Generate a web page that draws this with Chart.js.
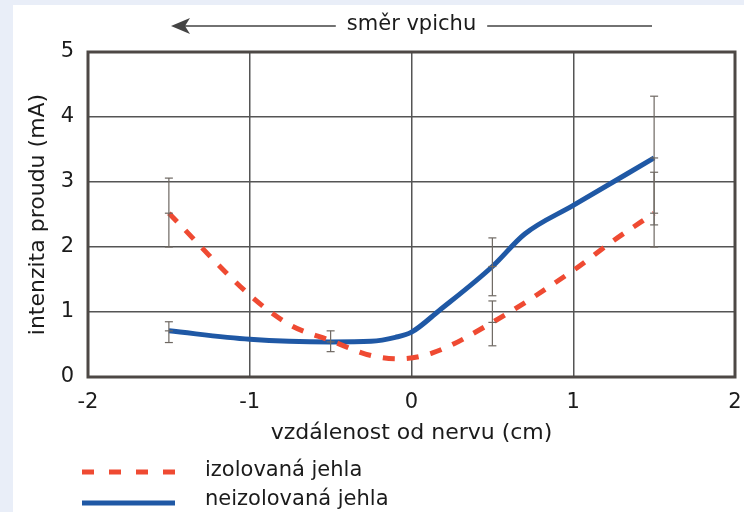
<!DOCTYPE html>
<html lang="cs">
<head>
<meta charset="utf-8">
<title>Intenzita proudu</title>
<script src="https://cdn.jsdelivr.net/npm/chart.js@4.4.1/dist/chart.umd.min.js"></script>
<style>
  html, body { margin: 0; padding: 0; background: #fff; }
  #wrap { position: relative; width: 744px; height: 512px; }
</style>
</head>
<body>
<div id="wrap"><canvas id="chart" width="744" height="512"></canvas></div>
<script>
// izolovaná jehla (red dashed curve)
const izolX = [-1.5, -1, -0.75, -0.5, -0.25, -0.08, 0.13, 0.5, 1, 1.25, 1.5];
const izolY = [2.52, 1.26, 0.8, 0.56, 0.33, 0.28, 0.37, 0.84, 1.64, 2.1, 2.52];

// neizolovaná jehla (blue solid curve)
const neizX = [-1.5, -1, -0.5, -0.25, -0.1, 0, 0.17, 0.5, 0.7, 1, 1.5];
const neizY = [0.71, 0.58, 0.54, 0.55, 0.61, 0.69, 1.02, 1.7, 2.2, 2.64, 3.37];

// error bars (low / high ends)
const izolErrX = [-1.5, 0.5, 1.5];
const izolErrLow = [2.0, 0.48, 2.0];
const izolErrHigh = [3.06, 1.17, 3.15];
const neizErrX = [-1.5, -0.5, 0.5, 1.5];
const neizErrLow = [0.53, 0.39, 1.25, 2.34];
const neizErrHigh = [0.85, 0.71, 2.14, 4.32];

const labels = ['izolovaná jehla', 'neizolovaná jehla'];
const topNote = 'směr vpichu';
const xTitle = 'vzdálenost od nervu (cm)';
const yTitle = 'intenzita proudu (mA)';

const RED = '#ef4a32';
const BLUE = '#1f58a5';
const BAR = '#6e6862';
const FONT = 'DejaVu Sans, Verdana, sans-serif';

function toPoints(xs, ys) {
    return xs.map((x, i) => ({ x: x, y: ys[i] }));
}

function errorSets(xs, lows, highs, serX, serY) {
    return xs.map((x, i) => {
        const mid = serY[serX.indexOf(x)];
        return {
            data: [{ x: x, y: lows[i] }, { x: x, y: mid }, { x: x, y: highs[i] }],
            borderColor: BAR,
            borderWidth: 1.2,
            pointStyle: 'line',
            pointRadius: 4,
            pointBorderColor: BAR,
            pointBorderWidth: 1.2,
            tension: 0,
            order: 0
        };
    });
}

const datasets = [
    {
        label: labels[0],
        data: toPoints(izolX, izolY),
        borderColor: RED,
        borderWidth: 5,
        borderDash: [12, 12],
        borderCapStyle: 'butt',
        cubicInterpolationMode: 'monotone',
        pointRadius: 0,
        order: 1
    },
    {
        label: labels[1],
        data: toPoints(neizX, neizY),
        borderColor: BLUE,
        borderWidth: 5,
        cubicInterpolationMode: 'monotone',
        pointRadius: 0,
        order: 1
    }
].concat(
    errorSets(izolErrX, izolErrLow, izolErrHigh, izolX, izolY),
    errorSets(neizErrX, neizErrLow, neizErrHigh, neizX, neizY)
);

// background strips, frame, top arrow and legend
const decorations = {
    id: 'decorations',
    beforeDraw(chart) {
        const ctx = chart.ctx;
        ctx.save();
        ctx.fillStyle = '#e9eef8';
        ctx.fillRect(0, 0, chart.width, chart.height);
        ctx.fillStyle = '#ffffff';
        ctx.fillRect(13, 5, chart.width - 13, chart.height - 5);
        ctx.restore();
    },
    beforeDatasetsDraw(chart) {
        const a = chart.chartArea;
        const ctx = chart.ctx;
        ctx.save();
        ctx.strokeStyle = '#4d4845';
        ctx.lineWidth = 3;
        ctx.strokeRect(a.left, a.top, a.right - a.left, a.bottom - a.top);
        ctx.restore();
    },
    afterDraw(chart) {
        const a = chart.chartArea;
        const ctx = chart.ctx;
        ctx.save();

        // "směr vpichu" with arrow
        const cx = (a.left + a.right) / 2;
        const ty = 26;
        ctx.font = '21px ' + FONT;
        ctx.fillStyle = '#1b1b1b';
        ctx.textAlign = 'center';
        ctx.textBaseline = 'middle';
        ctx.fillText(topNote, cx, ty - 1);
        const half = ctx.measureText(topNote).width / 2;
        ctx.strokeStyle = '#444';
        ctx.lineWidth = 1.5;
        ctx.beginPath();
        ctx.moveTo(a.left + 90, ty);
        ctx.lineTo(cx - half - 11, ty);
        ctx.moveTo(cx + half + 11, ty);
        ctx.lineTo(a.right - 83, ty);
        ctx.stroke();
        ctx.fillStyle = '#444';
        ctx.beginPath();
        ctx.moveTo(a.left + 83, ty);
        ctx.lineTo(a.left + 102, ty - 8);
        ctx.lineTo(a.left + 97, ty);
        ctx.lineTo(a.left + 102, ty + 8);
        ctx.closePath();
        ctx.fill();

        // legend
        const rows = [
            { ds: chart.data.datasets[0], y: 472, ty: 471 },
            { ds: chart.data.datasets[1], y: 503, ty: 500 }
        ];
        rows.forEach(r => {
            ctx.strokeStyle = r.ds.borderColor;
            ctx.lineWidth = 5;
            ctx.lineCap = 'butt';
            ctx.setLineDash(r.ds.borderDash ? [12, 15] : []);
            ctx.beginPath();
            ctx.moveTo(82, r.y);
            ctx.lineTo(175, r.y);
            ctx.stroke();
            ctx.setLineDash([]);
            ctx.fillStyle = '#1b1b1b';
            ctx.textAlign = 'left';
            ctx.font = '21px ' + FONT;
            ctx.fillText(r.ds.label, 205, r.ty);
        });
        ctx.restore();
    }
};

new Chart(document.getElementById('chart'), {
    type: 'line',
    data: { datasets: datasets },
    options: {
        responsive: false,
        animation: false,
        events: [],
        layout: { padding: { top: 52, right: 0, bottom: 0, left: 0 } },
        plugins: {
            legend: { display: false },
            tooltip: { enabled: false }
        },
        scales: {
            x: {
                type: 'linear',
                min: -2,
                max: 2,
                ticks: { stepSize: 1, padding: 13, color: '#1b1b1b', font: { family: FONT, size: 21 } },
                grid: { color: '#555', lineWidth: 1.5, drawTicks: false },
                border: { display: false },
                title: {
                    display: true,
                    text: xTitle,
                    color: '#1b1b1b',
                    font: { family: FONT, size: 22 },
                    padding: { top: 0, bottom: 66 }
                },
                afterFit(scale) {
                    scale.height = 135;
                    scale.paddingRight = 9;
                }
            },
            y: {
                min: 0,
                max: 5,
                ticks: { stepSize: 1, padding: 14, color: '#1b1b1b', font: { family: FONT, size: 21 } },
                grid: { color: '#555', lineWidth: 1.5, drawTicks: false },
                border: { display: false },
                title: {
                    display: true,
                    text: yTitle,
                    color: '#1b1b1b',
                    font: { family: FONT, size: 22 },
                    padding: { top: 25, bottom: 0 }
                },
                afterFit(scale) { scale.width = 88; }
            }
        }
    },
    plugins: [decorations]
});
</script>
</body>
</html>
